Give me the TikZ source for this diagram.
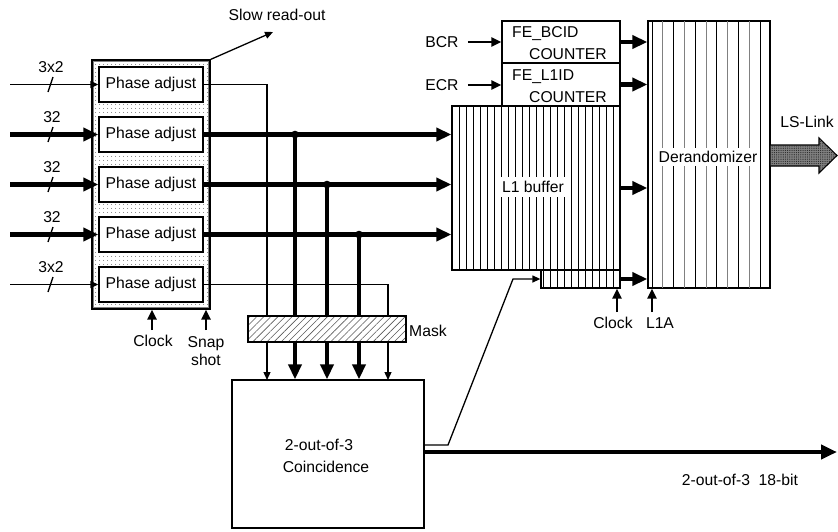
\documentclass[tikz,border=0pt]{standalone}
\usepackage{fontspec}
\setmainfont{Liberation Sans}
\usetikzlibrary{arrows.meta,patterns.meta,calc}
\begin{document}
\begin{tikzpicture}[x=1pt,y=-1pt,
  every node/.style={font=\fontsize{15.7}{18}\selectfont, inner sep=0pt},
  box/.style={draw, line width=1.3pt, fill=white},
  thinln/.style={line width=1.3pt},
  thinarr/.style={line width=1.3pt, -{Triangle[length=8pt,width=7pt]}},
  thickarr/.style={line width=4.8pt, -{Triangle[length=15pt,width=13pt]}},
  medarr/.style={line width=2.8pt, -{Triangle[length=10pt,width=9pt]}},
  stripe/.style={line width=0.8pt},
  pabox/.style={box, minimum width=104pt, minimum height=35pt}
  ]
\useasboundingbox (0,0) rectangle (838,531);

% ---------- phase adjust block ----------
\node[draw=black, line width=1.1pt, pattern={Dots[distance=4pt,radius=0.6pt]},
      pattern color=black!60, minimum width=118pt, minimum height=249pt] (pab) at (151,184.5) {};
\draw[gray, line width=1pt] (93.5,61.5) rectangle (208.5,307.5);

\coordinate (t1) at (267,380);
\coordinate (t5) at (388,380);
\coordinate (j2) at (295,134.5);
\coordinate (j3) at (327,184.5);
\coordinate (j4) at (359,234.5);

\node[pabox] (pa1) at (151,84.5) {Phase adjust};
\node[pabox] (pa2) at (151,134.5) {Phase adjust};
\node[pabox] (pa3) at (151,184.5) {Phase adjust};
\node[pabox] (pa4) at (151,234.5) {Phase adjust};
\node[pabox] (pa5) at (151,284.5) {Phase adjust};

% ---------- L1 buffer ----------
\node[draw, line width=1.3pt, fill=white, minimum width=168pt, minimum height=164pt] (l1) at (536,188) {};
\node[draw, line width=1.3pt, fill=white, minimum width=79pt, minimum height=18pt] (sb) at (580.5,279) {};
\foreach \i in {1,...,23} \draw[stripe] (452+7*\i,106) -- (452+7*\i,270);
\foreach \i in {13,...,23} \draw[stripe] (452+7*\i,270) -- (452+7*\i,288);
\draw[line width=1.3pt] (l1.south west) rectangle (l1.north east);
\draw[line width=1.3pt] (sb.south west) rectangle (sb.north east);
\node[fill=white, inner sep=4pt] at (533,187) {L1 buffer};

% ---------- counters ----------
\node[box, minimum width=118pt, minimum height=42pt] (bcid) at (561,42) {};
\node[box, minimum width=118pt, minimum height=43pt] (l1id) at (561,84.5) {};
\node[anchor=west] at (512,34) {FE\_BCID};
\node[anchor=east] at (607,54) {COUNTER};
\node[anchor=west] at (512,77) {FE\_L1ID};
\node[anchor=east] at (607,97) {COUNTER};
\node (bcr) at (442,42) {BCR};
\node (ecr) at (442,85) {ECR};
\draw[medarr] ([xshift=9pt]bcr.east) -- (bcr -| bcid.west);
\draw[medarr] ([xshift=9pt]ecr.east) -- (ecr -| l1id.west);

% ---------- derandomizer ----------
\node[draw, line width=1.3pt, fill=white, minimum width=122pt, minimum height=267pt] (der) at (709,154.5) {};
\foreach \i in {0,2,...,10} \draw[line width=0.9pt, black] (652+10.8*\i,21) -- (652+10.8*\i,288);
\foreach \i in {1,3,5,7,9} \draw[line width=0.9pt, gray] (652+10.8*\i,21) -- (652+10.8*\i,288);
\node[fill=white, inner sep=3pt] at (708,157) {Derandomizer};

% ---------- inputs ----------
\coordinate (i1) at (10,84.5);
\coordinate (i2) at (10,134.5);
\coordinate (i3) at (10,184.5);
\coordinate (i4) at (10,234.5);
\coordinate (i5) at (10,284.5);
\draw[thinarr] (i1) -- (pa1.west);
\draw[thickarr] (i2) -- (pa2.west);
\draw[thickarr] (i3) -- (pa3.west);
\draw[thickarr] (i4) -- (pa4.west);
\draw[thinarr] (i5) -- (pa5.west);
\foreach \y in {84.5,134.5,184.5,234.5,284.5} \draw[thinln] (48,\y+7.5) -- (53,\y-7.5);
\node at (51,67) {3x2};
\node at (52,117) {32};
\node at (52,167) {32};
\node at (52,217) {32};
\node at (51,267) {3x2};

% ---------- coincidence ----------
\node[box, minimum width=192pt, minimum height=148pt] (coin) at (328,454) {};
\node at (319,445) {2-out-of-3};
\node at (326,467) {Coincidence};

% ---------- connections from phase adjust ----------
\draw[thinarr] (pa1.east) -| (t1);
\draw[thinarr] (pa5.east) -| (t5);
\draw[thickarr] (pa2.east) -- (pa2.east -| l1.west);
\draw[thickarr] (pa3.east) -- (pa3.east -| l1.west);
\draw[thickarr] (pa4.east) -- (pa4.east -| l1.west);
\draw[thickarr] (j2) -- (j2 |- coin.north);
\draw[thickarr] (j3) -- (j3 |- coin.north);
\draw[thickarr] (j4) -- (j4 |- coin.north);
\fill (j2) circle (3.8pt);
\fill (j3) circle (3.8pt);
\fill (j4) circle (3.8pt);

% ---------- mask ----------
\node[draw, line width=1.2pt, preaction={fill=white},
      pattern={Lines[angle=45,distance=5pt,line width=0.6pt]}, pattern color=black!65,
      minimum width=158pt, minimum height=26pt] (mask) at (327,329) {};
\node[anchor=west] at (409,331) {Mask};

% ---------- coincidence outputs ----------
\coordinate (k1) at (448,445);
\coordinate (k2) at (513,279);
\draw[thinarr] (coin.east |- k1) -- (k1) -- (k2) -- (sb.west);
\coordinate (o2) at (837,452);
\draw[line width=4.8pt, -{Triangle[length=16pt,width=14pt]}] (coin.east |- o2) -- (o2);
\node at (740,480) {2-out-of-3\ \ 18-bit};

% ---------- into derandomizer ----------
\draw[thickarr] (bcid.east) -- (bcid.east -| der.west);
\draw[thickarr] (l1id.east) -- (l1id.east -| der.west);
\draw[thickarr] (l1.east) -- (l1.east -| der.west);
\draw[thickarr] (sb.east) -- (sb.east -| der.west);

% ---------- clocks ----------
\coordinate (ck) at (617,312);
\coordinate (la) at (652,312);
\draw[medarr] (ck) -- (ck |- sb.south);
\draw[medarr] (la) -- (la |- der.south);
\node at (613,323) {Clock};
\node at (660,323) {L1A};
\coordinate (pck) at (152,330);
\coordinate (psn) at (206,330);
\draw[medarr] (pck) -- (pck |- pab.south);
\draw[medarr] (psn) -- (psn |- pab.south);
\node at (153,341) {Clock};
\node[align=center] at (206,351) {Snap\\shot};

% ---------- slow read-out ----------
\coordinate (sro) at (273,32);
\draw[thinarr] (pab.north east) -- (sro);
\node at (277,15) {Slow read-out};

% ---------- LS-Link ----------
\draw[line width=1.1pt, fill=black!50, postaction={pattern={Dots[distance=2.2pt,radius=0.6pt]}, pattern color=black!85}]
  (770,145) -- (819,145) -- (819,138) -- (837,155.5) -- (819,173) -- (819,166) -- (770,166) -- cycle;
\node at (807,122) {LS-Link};
\end{tikzpicture}
\end{document}
